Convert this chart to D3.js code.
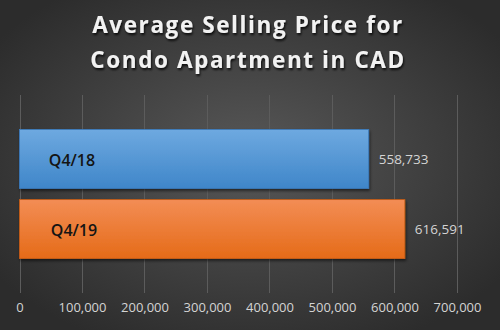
<!DOCTYPE html>
<html>
<head>
<meta charset="utf-8">
<script src="https://cdn.jsdelivr.net/npm/d3@7"></script>
<style>
  html, body { margin: 0; padding: 0; background: #3a3a3a; }
  svg { display: block; }
</style>
</head>
<body>
<div id="chart"></div>
<script>
const categories = ["Q4/18", "Q4/19"];
const values = [558733, 616591];
const tickValues = [0, 100000, 200000, 300000, 400000, 500000, 600000, 700000];
const titleLines = ["Average Selling Price for", "Condo Apartment in CAD"];

const W = 500, H = 330;
const svg = d3.select("#chart").append("svg").attr("width", W).attr("height", H);
const defs = svg.append("defs");

const bg = defs.append("radialGradient").attr("id", "bg")
  .attr("cx", "50%").attr("cy", "48%").attr("r", "62%");
bg.append("stop").attr("offset", "0%").attr("stop-color", "#585858");
bg.append("stop").attr("offset", "100%").attr("stop-color", "#2c2c2c");

const gradBlue = defs.append("linearGradient").attr("id", "gBlue").attr("x1", 0).attr("y1", 0).attr("x2", 0).attr("y2", 1);
gradBlue.append("stop").attr("offset", "0%").attr("stop-color", "#6ea9e0");
gradBlue.append("stop").attr("offset", "100%").attr("stop-color", "#3f86c9");
const gradOrange = defs.append("linearGradient").attr("id", "gOrange").attr("x1", 0).attr("y1", 0).attr("x2", 0).attr("y2", 1);
gradOrange.append("stop").attr("offset", "0%").attr("stop-color", "#f38d55");
gradOrange.append("stop").attr("offset", "100%").attr("stop-color", "#e56b18");

const shadow = defs.append("filter").attr("id", "shadow").attr("x", "-10%").attr("y", "-20%").attr("width", "130%").attr("height", "150%");
shadow.append("feDropShadow").attr("dx", 1).attr("dy", 2).attr("stdDeviation", 1.5)
  .attr("flood-color", "#000").attr("flood-opacity", 0.55);
const tshadow = defs.append("filter").attr("id", "tshadow").attr("x", "-10%").attr("y", "-30%").attr("width", "120%").attr("height", "170%");
tshadow.append("feDropShadow").attr("dx", 1).attr("dy", 2).attr("stdDeviation", 1.2)
  .attr("flood-color", "#000").attr("flood-opacity", 0.8);

svg.append("rect").attr("width", W).attr("height", H).attr("fill", "url(#bg)");

const x = d3.scaleLinear().domain([0, 700000]).range([19.5, 457]);
const y = d3.scaleBand().domain(categories).range([95, 293]).paddingInner(0.16).paddingOuter(0.49);

// gridlines
svg.append("g").selectAll("line").data(tickValues).join("line")
  .attr("x1", d => Math.round(x(d)) + 0.5).attr("x2", d => Math.round(x(d)) + 0.5)
  .attr("y1", 95).attr("y2", 293)
  .attr("stroke", "#5c5c5c").attr("stroke-width", 1);

// axis labels
const axis = d3.axisBottom(x).tickValues(tickValues).tickFormat(d3.format(",")).tickSize(0).tickPadding(0);
const ag = svg.append("g").attr("transform", "translate(0,303)").call(axis);
ag.select(".domain").remove();
ag.selectAll("text").attr("fill", "#d4d4d4").attr("font-family", "'Open Sans', sans-serif").attr("font-size", 13).attr("dy", "0.71em");

// bars
const fills = ["url(#gBlue)", "url(#gOrange)"];
const strokes = ["#3a7bbd", "#c95d14"];
const data = categories.map((c, i) => ({ c, v: values[i], i }));
svg.append("g").selectAll("rect").data(data).join("rect")
  .attr("x", x(0)).attr("y", d => y(d.c))
  .attr("width", d => x(d.v) - x(0)).attr("height", y.bandwidth())
  .attr("fill", d => fills[d.i]).attr("stroke", d => strokes[d.i]).attr("stroke-width", 0.8)
  .attr("filter", "url(#shadow)");

// category labels inside bars
svg.append("g").selectAll("text").data(data).join("text")
  .attr("x", (d, i) => 72 + i * 2).attr("y", d => y(d.c) + y.bandwidth() / 2 + 1)
  .attr("text-anchor", "middle").attr("dominant-baseline", "central")
  .attr("font-family", "'Open Sans', sans-serif").attr("font-weight", 600).attr("font-size", 16)
  .attr("fill", "#141414").text(d => d.c);

// value labels
svg.append("g").selectAll("text").data(data).join("text")
  .attr("x", d => x(d.v) + 10).attr("y", d => y(d.c) + y.bandwidth() / 2)
  .attr("dominant-baseline", "central")
  .attr("font-family", "'Open Sans', sans-serif").attr("font-size", 13.5)
  .attr("fill", "#d4d4d4").text(d => d3.format(",")(d.v));

// title
svg.append("g").attr("filter", "url(#tshadow)").selectAll("text").data(titleLines).join("text")
  .attr("x", 248).attr("y", (d, i) => 33 + i * 35)
  .attr("text-anchor", "middle")
  .attr("font-family", "'Open Sans', sans-serif").attr("font-weight", 700).attr("font-size", 22.5)
  .attr("letter-spacing", 1.6)
  .attr("fill", "#f2f2f2").text(d => d);
</script>
</body>
</html>
